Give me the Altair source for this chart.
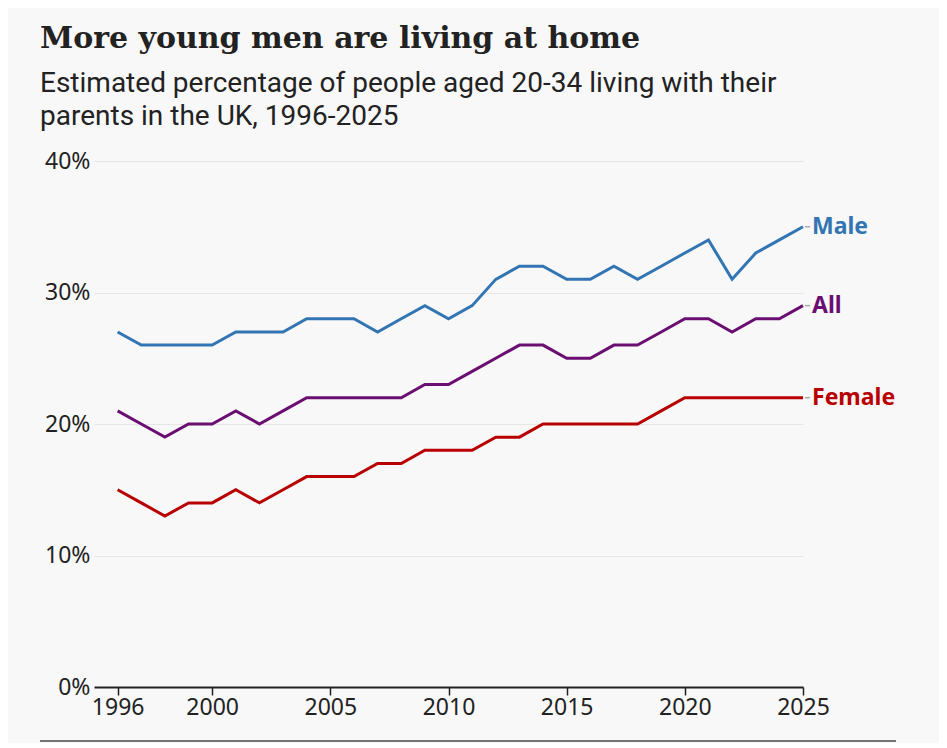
import altair as alt
import pandas as pd

years = list(range(1996, 2026))
male = [27, 26, 26, 26, 26, 27, 27, 27, 28, 28, 28, 27, 28, 29, 28, 29, 31, 32, 32, 31,
        31, 32, 31, 32, 33, 34, 31, 33, 34, 35]
all_people = [21, 20, 19, 20, 20, 21, 20, 21, 22, 22, 22, 22, 22, 23, 23, 24, 25, 26, 26, 25,
              25, 26, 26, 27, 28, 28, 27, 28, 28, 29]
female = [15, 14, 13, 14, 14, 15, 14, 15, 16, 16, 16, 17, 17, 18, 18, 18, 19, 19, 20, 20,
          20, 20, 20, 21, 22, 22, 22, 22, 22, 22]
series_names = ["Male", "All", "Female"]
series_colors = ["#3275B2", "#6A0F71", "#B80000"]
x_ticks = [1996, 2000, 2005, 2010, 2015, 2020, 2025]
y_ticks = [0, 10, 20, 30, 40]

rows = []
for name, vals in zip(series_names, [male, all_people, female]):
    for yr, v in zip(years, vals):
        rows.append({"year": yr, "value": v, "series": name})
df = pd.DataFrame(rows)

SANS = "Noto Sans"

x_enc = alt.X("year:Q",
              scale=alt.Scale(domain=[1995, 2025], nice=False, zero=False),
              axis=alt.Axis(values=x_ticks, format="d", title=None,
                            domainColor="#222222", domainWidth=2,
                            tickColor="#222222", tickWidth=1.5, tickSize=8,
                            labelFontSize=23, labelColor="#222222", labelFont=SANS,
                            labelPadding=1, grid=False, labelFlush=False))
y_enc = alt.Y("value:Q",
              scale=alt.Scale(domain=[0, 40], nice=False),
              axis=alt.Axis(values=y_ticks, labelExpr="datum.value + '%'", title=None,
                            domain=False, ticks=False, grid=True,
                            gridColor="#e6e6e6", gridWidth=1,
                            labelFontSize=23, labelColor="#222222", labelFont=SANS,
                            labelPadding=4))
color_enc = alt.Color("series:N",
                      scale=alt.Scale(domain=series_names, range=series_colors),
                      legend=None)

base = alt.Chart(df)

lines = base.mark_line(strokeWidth=3, strokeJoin="miter").encode(
    x=x_enc, y=y_enc, color=color_enc, detail="series:N")

last = base.transform_filter(alt.datum.year == 2025)

connectors = last.mark_rule(color="#aaaaaa", strokeWidth=1.5, xOffset=2, x2Offset=7).encode(
    x="year:Q", x2="year:Q", y="value:Q")

labels = last.mark_text(align="left", baseline="middle", dx=9, fontSize=23,
                        fontWeight="bold", font=SANS).encode(
    x="year:Q", y="value:Q", text="series:N", color=color_enc)

separator = alt.Chart(df).mark_rule(color="#777777", strokeWidth=1).encode(
    x=alt.value(-54), x2=alt.value(802), y=alt.value(580))

chart = alt.layer(lines, connectors, labels, separator).properties(
    width=709, height=526,
    autosize=alt.AutoSizeParams(type="none"),
    padding={"left": 86, "top": 153, "right": 136, "bottom": 56},
    background="#f8f8f8",
    title=alt.TitleParams(
        text="More young men are living at home",
        subtitle=["Estimated percentage of people aged 20-34 living with their",
                  "parents in the UK, 1996-2025"],
        anchor="start", frame="group", dx=-54,
        font="DejaVu Serif", fontSize=30, fontWeight="bold", color="#222222",
        subtitleFont="Roboto", subtitleFontSize=28, subtitleColor="#222222",
        subtitleLineHeight=33, subtitlePadding=16, offset=19,
    ),
).configure_view(stroke=None)

chart.save("out.html", embed_options={"renderer": "svg", "actions": False})
